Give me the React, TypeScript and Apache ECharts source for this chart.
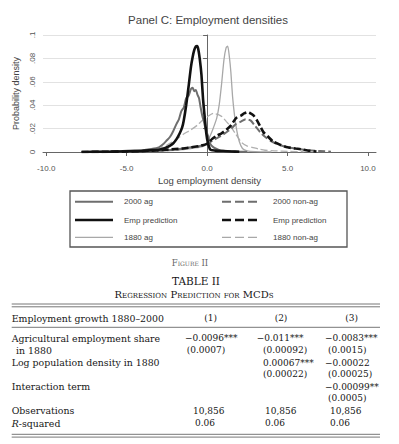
import React, { useEffect, useRef } from "react";
import * as echarts from "echarts";

// ---------- Chart data ----------
const xTicks = [-10, -5, 0, 5, 10];

const ag2000X = [-7.8, -6, -5, -4, -3.5, -3, -2.7, -2.5, -2.3, -2.1, -1.9, -1.75, -1.6, -1.45, -1.3, -1.15, -1.0, -0.9, -0.8, -0.7, -0.6, -0.5, -0.4, -0.3, -0.2, -0.1, 0.05, 0.2, 0.4, 0.7, 1.0, 1.5, 2.0, 2.5];
const ag2000Y = [0, 0.0005, 0.001, 0.0015, 0.0025, 0.004, 0.007, 0.01, 0.013, 0.018, 0.024, 0.028, 0.035, 0.038, 0.046, 0.048, 0.054, 0.055, 0.052, 0.053, 0.049, 0.046, 0.038, 0.031, 0.026, 0.02, 0.014, 0.007, 0.004, 0.002, 0.001, 0.0006, 0.0003, 0.0001];

const empAgX = [-7.8, -6, -5, -4, -3.5, -3, -2.6, -2.3, -2.1, -1.9, -1.7, -1.55, -1.45, -1.3, -1.15, -1.0, -0.9, -0.8, -0.7, -0.62, -0.55, -0.45, -0.35, -0.25, -0.15, -0.05, 0.05, 0.2, 0.5, 1.0, 1.5, 2.0];
const empAgY = [0, 0.0003, 0.0006, 0.001, 0.0015, 0.002, 0.0035, 0.0055, 0.0075, 0.011, 0.016, 0.021, 0.027, 0.04, 0.056, 0.073, 0.081, 0.087, 0.0902, 0.0905, 0.088, 0.079, 0.066, 0.045, 0.03, 0.016, 0.008, 0.002, 0.0012, 0.0008, 0.0004, 0.0002];

const ag1880X = [-7.8, -5, -3, -2, -1.5, -1, -0.5, -0.2, 0, 0.2, 0.4, 0.6, 0.75, 0.9, 1.05, 1.18, 1.28, 1.38, 1.48, 1.58, 1.7, 1.85, 2.0, 2.2, 2.5, 3, 4];
const ag1880Y = [0, 0.0002, 0.0008, 0.0015, 0.002, 0.003, 0.004, 0.005, 0.008, 0.014, 0.021, 0.029, 0.04, 0.058, 0.079, 0.089, 0.0905, 0.082, 0.068, 0.048, 0.032, 0.018, 0.009, 0.003, 0.001, 0.0004, 0.0001];

const nonag2000X = [-5, -4, -3, -2, -1, -0.5, 0, 0.5, 1.0, 1.5, 1.8, 2.1, 2.4, 2.7, 3.0, 3.3, 3.6, 4.0, 4.5, 5.0, 5.5, 6.0, 6.5, 7.0, 7.7];
const nonag2000Y = [0.0003, 0.0006, 0.001, 0.002, 0.004, 0.005, 0.007, 0.011, 0.015, 0.02, 0.024, 0.026, 0.028, 0.027, 0.022, 0.017, 0.013, 0.009, 0.006, 0.004, 0.003, 0.002, 0.0012, 0.0008, 0.0003];

const empNonagX = [-7.8, -6, -5, -4, -3, -2, -1.5, -1, -0.5, 0, 0.3, 0.6, 0.9, 1.2, 1.5, 1.8, 2.1, 2.3, 2.5, 2.7, 2.9, 3.1, 3.3, 3.5, 3.8, 4.1, 4.5, 5.0, 5.5, 6.0, 6.4, 6.8];
const empNonagY = [0, 0.0002, 0.0004, 0.0008, 0.0015, 0.0025, 0.003, 0.004, 0.005, 0.007, 0.011, 0.014, 0.016, 0.019, 0.023, 0.029, 0.031, 0.033, 0.034, 0.033, 0.031, 0.027, 0.022, 0.017, 0.013, 0.009, 0.0065, 0.004, 0.003, 0.002, 0.001, 0.0004];

const nonag1880X = [-5, -4, -3, -2.5, -2, -1.5, -1, -0.6, -0.3, 0, 0.4, 0.7, 0.95, 1.2, 1.45, 1.75, 2.15, 2.5, 2.8, 3.2, 3.6, 4.2, 5.0, 6.0];
const nonag1880Y = [0.0005, 0.001, 0.003, 0.006, 0.01, 0.015, 0.019, 0.023, 0.027, 0.03, 0.033, 0.032, 0.03, 0.026, 0.022, 0.016, 0.008, 0.005, 0.004, 0.0025, 0.0015, 0.001, 0.0005, 0.0002];

const legendLeft = ["2000 ag", "Emp prediction", "1880 ag"];
const legendRight = ["2000 non-ag", "Emp prediction", "1880 non-ag"];

// ---------- Table data ----------
const figureCaption = "Figure II";
const tableTitle = "TABLE II";
const tableSubtitle = "Regression Prediction for MCDs";
const headerLabel = "Employment growth 1880–2000";
const colHeaders = ["(1)", "(2)", "(3)"];
const rowLabels = ["Agricultural employment share", "in 1880", "Log population density in 1880", "", "Interaction term", "", "Observations", "R-squared"];
const col1 = ["−0.0096***", "(0.0007)", "", "", "", "", "10,856", "0.06"];
const col2 = ["−0.011***", "(0.00092)", "0.00067***", "(0.00022)", "", "", "10,856", "0.06"];
const col3 = ["−0.0083***", "(0.0015)", "−0.00022", "(0.00025)", "−0.00099**", "(0.0005)", "10,856", "0.06"];

// ---------- Layout ----------
const SANS = "Liberation Sans";
const SERIF = "DejaVu Serif";
const rowY = [338.3, 350, 362.7, 374.3, 386.7, 398.3, 410.7, 423.3];
const labelX = [11.7, 16, 11.7, 11.7, 11.7, 11.7, 11.7, 11.7];
const cellX = [
  [185, 186.7, 0, 0, 0, 0, 193, 195],
  [256.7, 263, 263, 263, 0, 0, 265, 265],
  [325, 328, 325, 328, 325, 328, 330, 330],
];
const colHeaderX = [210.7, 281, 351.7];

function pairs(xs: number[], ys: number[]) {
  return xs.map((x, i) => [x, ys[i]]);
}

export default function App() {
  const ref = useRef<HTMLDivElement>(null);
  useEffect(() => {
    if (!ref.current) return;
    const chart = echarts.init(ref.current, undefined, { renderer: "svg" });

    const INK = "#161616";
    const labelFont = `9.4px ${SERIF}`;
    const numFont = `9px ${SERIF}`;
    const txt = (text: string, x: number, y: number, font: string, fill = INK, align = "left") => ({
      type: "text",
      style: { text, x, y, font, fill, align, verticalAlign: "middle", textAlign: align, textVerticalAlign: "middle" },
      z: 10,
    });

    const graphics: any[] = [];
    graphics.push(txt("Panel C: Employment densities", 208, 20, `11.5px ${SANS}`, "#444", "center"));
    graphics.push({ type: "rect", shape: { x: 70, y: 191, width: 277, height: 56 }, style: { fill: "none", stroke: "#555", lineWidth: 1.3 } });
    const legRows = [201.7, 220, 237.3];
    const legStyles = [
      { stroke: "#6e6e6e", lineWidth: 2 },
      { stroke: "#111", lineWidth: 2.6 },
      { stroke: "#a8a8a8", lineWidth: 1.3 },
    ];
    legendLeft.forEach((name, i) => {
      graphics.push({ type: "line", shape: { x1: 75, y1: legRows[i], x2: 113, y2: legRows[i] }, style: { ...legStyles[i] } });
      graphics.push(txt(name, 124, legRows[i], `8px ${SANS}`, "#444"));
    });
    legendRight.forEach((name, i) => {
      graphics.push({ type: "line", shape: { x1: 222, y1: legRows[i], x2: 259, y2: legRows[i] }, style: { ...legStyles[i], lineDash: [9, 4] } });
      graphics.push(txt(name, 273, legRows[i], `8px ${SANS}`, "#444"));
    });

    graphics.push(txt(figureCaption, 190, 263.3, `small-caps 8.5px ${SERIF}`, "#666", "center"));
    graphics.push(txt(tableTitle, 196, 280.7, `10.5px ${SERIF}`, INK, "center"));
    graphics.push(txt(tableSubtitle, 194, 294.3, `small-caps 10px ${SERIF}`, INK, "center"));
    const hline = (y: number, w = 1) => ({ type: "line", shape: { x1: 11.7, y1: y, x2: 380, y2: y }, style: { stroke: "#777", lineWidth: w } });
    graphics.push(hline(304), hline(306.8), hline(327.3), hline(434.3), hline(437.1));
    graphics.push(txt(headerLabel, 11.7, 318.3, labelFont));
    colHeaders.forEach((h, i) => graphics.push(txt(h, colHeaderX[i], 318.3, numFont, INK, "center")));
    rowLabels.forEach((lab, r) => {
      if (!lab) return;
      if (lab === "R-squared") {
        graphics.push({
          type: "text",
          z: 10,
          style: {
            text: "{i|R}{n|-squared}",
            x: labelX[r],
            y: rowY[r],
            fill: INK,
            verticalAlign: "middle",
            textVerticalAlign: "middle",
            rich: {
              i: { fontFamily: SERIF, fontSize: 9.4, fontStyle: "italic", fill: INK },
              n: { fontFamily: SERIF, fontSize: 9.4, fill: INK },
            },
          },
        });
      } else {
        graphics.push(txt(lab, labelX[r], rowY[r], labelFont));
      }
    });
    [col1, col2, col3].forEach((col, c) => {
      col.forEach((v, r) => {
        if (!v) return;
        graphics.push(txt(v, cellX[c][r], rowY[r], numFont));
      });
    });

    const mk = (name: string, xs: number[], ys: number[], color: string, width: number, dashed: boolean, z: number) => ({
      name,
      type: "line",
      data: pairs(xs, ys),
      showSymbol: false,
      symbol: "none",
      smooth: 0.2,
      z,
      lineStyle: { color, width, type: dashed ? [7, 3] : "solid" },
    });

    chart.setOption({
      animation: false,
      backgroundColor: "#fff",
      grid: { left: 43, right: 23, top: 35, bottom: 292, containLabel: false },
      xAxis: {
        type: "value",
        min: -10.2,
        max: 10.5,
        offset: 5,
        axisLine: { show: true, lineStyle: { color: "#666", width: 1 } },
        axisTick: { show: true, length: 4, lineStyle: { color: "#666" }, customValues: xTicks },
        axisLabel: { customValues: xTicks, formatter: (v: number) => v.toFixed(1), fontSize: 8, color: "#555", fontFamily: SANS, margin: 7 },
        splitLine: { show: false },
        name: "Log employment density",
        nameLocation: "middle",
        nameGap: 18,
        nameTextStyle: { fontSize: 9.5, color: "#444", fontFamily: SANS },
      },
      yAxis: {
        type: "value",
        min: 0,
        max: 0.1,
        interval: 0.02,
        offset: 1,
        axisLine: { show: true, lineStyle: { color: "#666", width: 1 } },
        axisTick: { show: true, length: 4, lineStyle: { color: "#666" } },
        axisLabel: {
          rotate: 90,
          margin: 6,
          fontSize: 8,
          color: "#555",
          fontFamily: SANS,
          formatter: (v: number) => String(+v.toFixed(2)).replace(/^0\./, "."),
        },
        splitLine: { show: true, lineStyle: { color: "#e2e2e2", width: 1.2 } },
        name: "Probability density",
        nameLocation: "middle",
        nameGap: 22,
        nameTextStyle: { fontSize: 9, color: "#444", fontFamily: SANS },
      },
      series: [
        mk("1880 non-ag", nonag1880X, nonag1880Y, "#b0b0b0", 1.3, true, 2),
        mk("1880 ag", ag1880X, ag1880Y, "#a8a8a8", 1.3, false, 3),
        mk("2000 non-ag", nonag2000X, nonag2000Y, "#6e6e6e", 2, true, 4),
        mk("2000 ag", ag2000X, ag2000Y, "#6e6e6e", 2, false, 5),
        mk("Emp prediction non-ag", empNonagX, empNonagY, "#111", 2.6, true, 6),
        mk("Emp prediction ag", empAgX, empAgY, "#111", 2.6, false, 7),
      ],
      graphic: graphics,
    });
    return () => chart.dispose();
  }, []);
  return <div ref={ref} style={{ position: "absolute", left: 0, top: 0, width: 399, height: 444, background: "#fff" }} />;
}
